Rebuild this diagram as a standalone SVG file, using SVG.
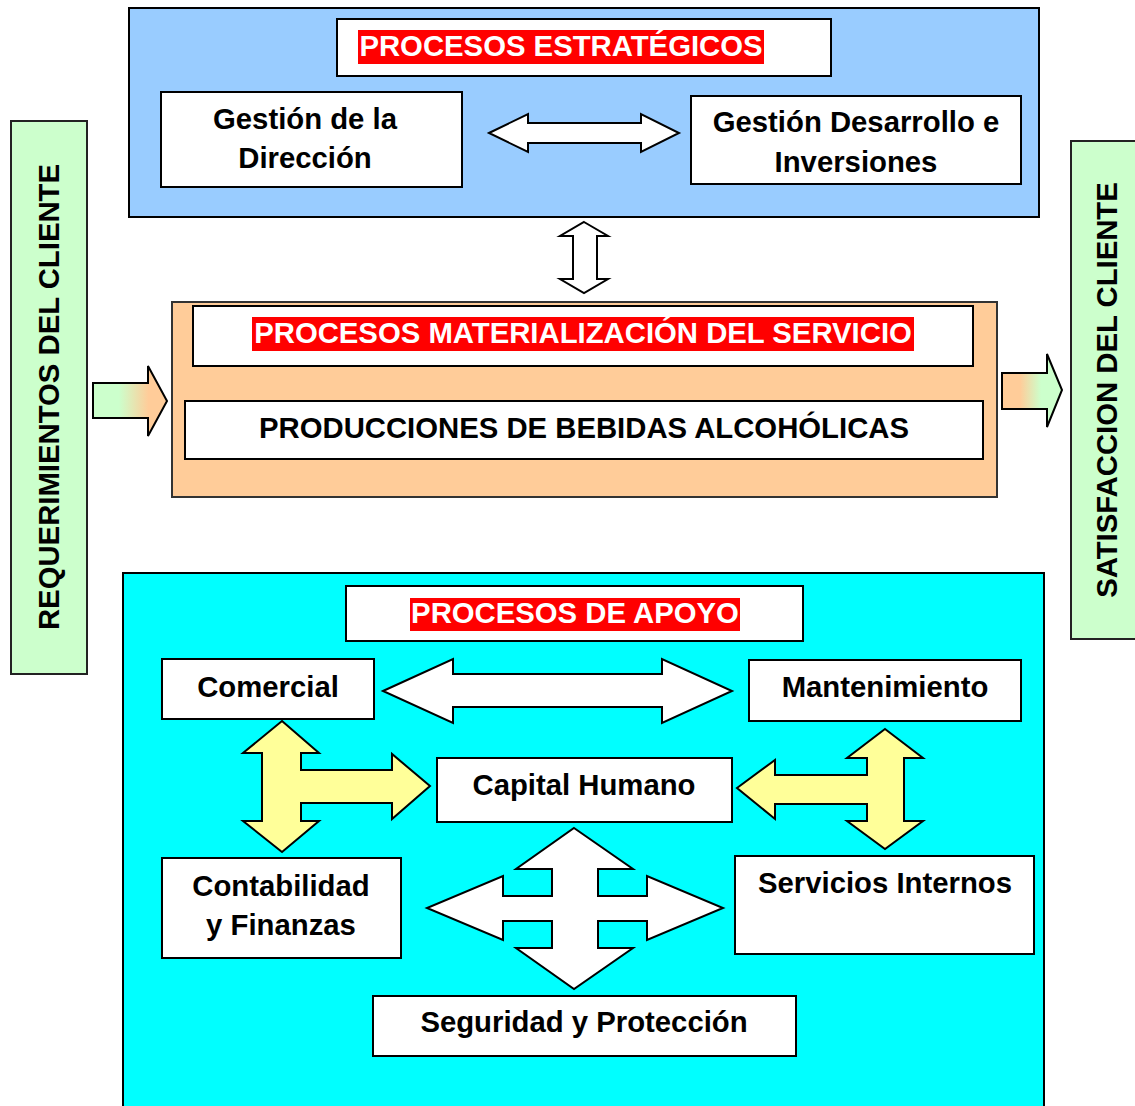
<svg xmlns="http://www.w3.org/2000/svg" width="1135" height="1106" viewBox="0 0 1135 1106">
<defs>
<linearGradient id="gL" x1="0" y1="0" x2="1" y2="0">
<stop offset="0" stop-color="#CCFFCC"/><stop offset="0.35" stop-color="#CCFFCC"/><stop offset="0.75" stop-color="#FFCC99"/><stop offset="1" stop-color="#FFCC99"/>
</linearGradient>
<linearGradient id="gR" x1="0" y1="0" x2="1" y2="0">
<stop offset="0" stop-color="#FFCC99"/><stop offset="0.3" stop-color="#FFCC99"/><stop offset="0.65" stop-color="#CCFFCC"/><stop offset="1" stop-color="#CCFFCC"/>
</linearGradient>
</defs>
<style>
.t{font-family:"Liberation Sans",Arial,sans-serif;font-weight:bold;font-size:29.3px;fill:#000;text-anchor:middle}
.w{fill:#fff}
.box{fill:#fff;stroke:#000;stroke-width:2}
.hl{fill:#FF0000}
.arr{fill:#fff;stroke:#000;stroke-width:2;stroke-linejoin:miter}
.yel{fill:#FFFF99;stroke:#000;stroke-width:2}
.grn{fill:#CCFFCC;stroke:#222;stroke-width:2}
</style>
<rect width="1135" height="1106" fill="#fff"/>

<g id="req-cliente">
<rect class="grn" x="11" y="121" width="76" height="553"/>
<text class="t" transform="translate(59,397) rotate(-90)">REQUERIMIENTOS DEL CLIENTE</text>
</g>
<g id="sat-cliente">
<rect class="grn" x="1071" y="141" width="80" height="498"/>
<text class="t" transform="translate(1117,390) rotate(-90)">SATISFACCION DEL CLIENTE</text>
</g>

<g id="estrategicos">
<rect x="129" y="8" width="910" height="209" fill="#99CCFF" stroke="#000" stroke-width="2"/>
<rect class="box" x="337" y="19" width="494" height="57"/>
<rect class="hl" x="358" y="30" width="406" height="34"/>
<text class="t w" x="561" y="56" style="fill:#fff">PROCESOS ESTRATÉGICOS</text>
</g>
<g id="gestion-direccion">
<rect class="box" x="161" y="92" width="301" height="95"/>
<text class="t" x="305" y="129">Gestión de la</text>
<text class="t" x="305" y="168">Dirección</text>
</g>
<g id="gestion-desarrollo">
<rect class="box" x="691" y="96" width="330" height="88"/>
<text class="t" x="856" y="132">Gestión Desarrollo e</text>
<text class="t" x="856" y="172">Inversiones</text>
</g>

<g id="materializacion">
<rect x="172" y="302" width="825" height="195" fill="#FFCC99" stroke="#333" stroke-width="2"/>
<rect class="box" x="193" y="306" width="780" height="60"/>
<rect class="hl" x="252" y="317" width="662" height="34"/>
<text class="t" x="583" y="343" style="fill:#fff">PROCESOS MATERIALIZACIÓN DEL SERVICIO</text>
</g>
<g id="producciones">
<rect class="box" x="185" y="401" width="798" height="58"/>
<text class="t" x="584" y="438">PRODUCCIONES DE BEBIDAS ALCOHÓLICAS</text>
</g>

<g id="apoyo">
<rect x="123" y="573" width="921" height="545" fill="#00FFFF" stroke="#000" stroke-width="2"/>
<rect class="box" x="346" y="586" width="457" height="55"/>
<rect class="hl" x="410" y="598" width="330" height="33"/>
<text class="t" x="575" y="623" style="fill:#fff">PROCESOS DE APOYO</text>
</g>
<g id="comercial">
<rect class="box" x="162" y="659" width="212" height="60"/>
<text class="t" x="268" y="697">Comercial</text>
</g>
<g id="mantenimiento">
<rect class="box" x="749" y="660" width="272" height="61"/>
<text class="t" x="885" y="697">Mantenimiento</text>
</g>
<g id="capital-humano">
<rect class="box" x="437" y="758" width="295" height="64"/>
<text class="t" x="584" y="795">Capital Humano</text>
</g>
<g id="contabilidad">
<rect class="box" x="162" y="858" width="239" height="100"/>
<text class="t" x="281" y="896">Contabilidad</text>
<text class="t" x="281" y="935">y Finanzas</text>
</g>
<g id="servicios-internos">
<rect class="box" x="735" y="856" width="299" height="98"/>
<text class="t" x="885" y="893">Servicios Internos</text>
</g>
<g id="seguridad">
<rect class="box" x="373" y="996" width="423" height="60"/>
<text class="t" x="584" y="1032">Seguridad y Protección</text>
</g>

<g id="connectors">
<path class="arr" d="M489,133 L528,114 L528,123 L641,123 L641,114 L679,133 L641,152 L641,143 L528,143 L528,152 Z"/>
<path class="arr" d="M584,222 L608,236 L597,236 L597,279 L608,279 L584,293 L560,279 L573,279 L573,236 L560,236 Z"/>
<path d="M93,383 L148,383 L148,366 L167,401 L148,436 L148,418 L93,418 Z" fill="url(#gL)" stroke="#000" stroke-width="2"/>
<path d="M1002,373 L1047,373 L1047,354 L1062,390 L1047,427 L1047,409 L1002,409 Z" fill="url(#gR)" stroke="#000" stroke-width="2"/>
<path class="arr" d="M383,691 L453,659 L453,674 L662,674 L662,659 L732,691 L662,723 L662,707 L453,707 L453,723 Z"/>
<path class="yel" d="M282,721 L319,753 L301,753 L301,770 L392,770 L392,754 L430,786 L392,819 L392,803 L301,803 L301,821 L319,821 L282,852 L243,821 L262,821 L262,753 L243,753 Z"/>
<path class="yel" d="M885,729 L923,758 L904,758 L904,821 L923,821 L885,849 L847,821 L867,821 L867,804 L775,804 L775,819 L737,788 L775,760 L775,775 L867,775 L867,758 L847,758 Z"/>
<path class="arr" d="M574,828 L633,869 L598,869 L598,896 L647,896 L647,876 L723,908 L647,940 L647,921 L598,921 L598,948 L633,948 L574,989 L516,948 L552,948 L552,921 L503,921 L503,940 L427,908 L503,876 L503,896 L552,896 L552,869 L516,869 Z"/>
</g>
</svg>
